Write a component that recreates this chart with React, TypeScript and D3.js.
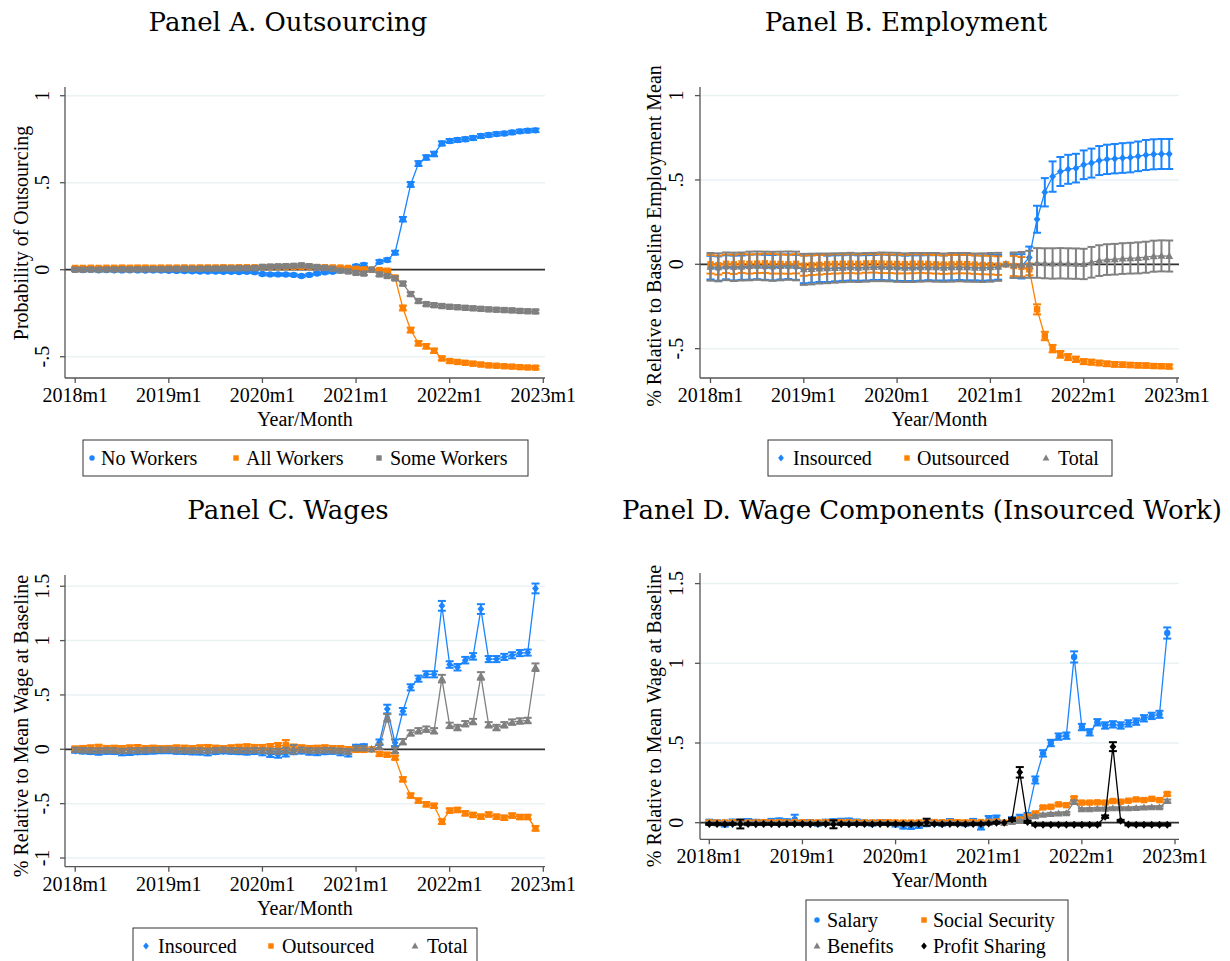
import React from "react";
import * as d3 from "d3";

// ---------------- categories / ticks ----------------
const monthIdx = d3.range(60); // 2018m1 .. 2022m12
const xTickMonths = [0, 12, 24, 36, 48, 60];
const xTickLabels = ["2018m1", "2019m1", "2020m1", "2021m1", "2022m1", "2023m1"];

// ---------------- Panel A: Outsourcing ----------------
const aNoWorkers = [
  0.000, -0.002, 0.000, -0.003, -0.002, -0.003, -0.004, -0.003, -0.004, -0.005, -0.004, -0.005,
  -0.006, -0.007, -0.008, -0.009, -0.010, -0.010, -0.011, -0.012, -0.012, -0.013, -0.012, -0.014,
  -0.025, -0.027, -0.027, -0.028, -0.030, -0.036, -0.030, -0.022, -0.015, -0.012, -0.005, 0.008,
  0.020, 0.028, 0.000, 0.046, 0.056, 0.098, 0.290, 0.490, 0.610, 0.645, 0.665, 0.726,
  0.740, 0.745, 0.750, 0.757, 0.768, 0.774, 0.780, 0.783, 0.789, 0.795, 0.799, 0.801,
];
const aNoWorkersCI = [
  0.007, 0.007, 0.007, 0.007, 0.007, 0.007, 0.007, 0.007, 0.007, 0.007, 0.007, 0.007,
  0.007, 0.007, 0.007, 0.007, 0.007, 0.007, 0.007, 0.007, 0.007, 0.007, 0.007, 0.007,
  0.007, 0.007, 0.007, 0.007, 0.007, 0.007, 0.007, 0.007, 0.007, 0.007, 0.007, 0.007,
  0.008, 0.008, 0.000, 0.009, 0.009, 0.011, 0.013, 0.014, 0.014, 0.013, 0.013, 0.012,
  0.011, 0.011, 0.011, 0.011, 0.011, 0.010, 0.010, 0.010, 0.010, 0.010, 0.010, 0.010,
];
const aAllWorkers = [
  0.010, 0.010, 0.011, 0.010, 0.011, 0.011, 0.012, 0.011, 0.012, 0.012, 0.011, 0.012,
  0.012, 0.012, 0.013, 0.012, 0.013, 0.013, 0.013, 0.014, 0.013, 0.014, 0.014, 0.014,
  0.015, 0.015, 0.016, 0.016, 0.016, 0.017, 0.016, 0.015, 0.014, 0.013, 0.012, 0.010,
  0.005, 0.002, 0.000, -0.002, -0.006, -0.045, -0.220, -0.347, -0.423, -0.440, -0.466, -0.510,
  -0.525, -0.530, -0.535, -0.540, -0.545, -0.550, -0.552, -0.555, -0.557, -0.560, -0.562, -0.563,
];
const aAllWorkersCI = [
  0.006, 0.006, 0.006, 0.006, 0.006, 0.006, 0.006, 0.006, 0.006, 0.006, 0.006, 0.006,
  0.006, 0.006, 0.006, 0.006, 0.006, 0.006, 0.006, 0.006, 0.006, 0.006, 0.006, 0.006,
  0.006, 0.006, 0.006, 0.006, 0.006, 0.006, 0.006, 0.006, 0.006, 0.006, 0.006, 0.006,
  0.006, 0.006, 0.000, 0.007, 0.007, 0.009, 0.014, 0.014, 0.013, 0.013, 0.012, 0.011,
  0.010, 0.010, 0.010, 0.010, 0.010, 0.010, 0.009, 0.009, 0.009, 0.009, 0.009, 0.009,
];
const aSomeWorkers = [
  0.000, 0.000, 0.001, 0.000, 0.001, 0.001, 0.002, 0.001, 0.002, 0.002, 0.003, 0.003,
  0.004, 0.004, 0.005, 0.005, 0.005, 0.006, 0.006, 0.007, 0.007, 0.008, 0.008, 0.009,
  0.016, 0.018, 0.019, 0.020, 0.022, 0.025, 0.020, 0.015, 0.010, 0.005, -0.005, -0.010,
  -0.018, -0.022, 0.000, -0.027, -0.036, -0.050, -0.080, -0.140, -0.180, -0.198, -0.204, -0.209,
  -0.213, -0.216, -0.219, -0.222, -0.225, -0.228, -0.230, -0.232, -0.234, -0.237, -0.239, -0.240,
];
const aSomeWorkersCI = [
  0.009, 0.009, 0.009, 0.009, 0.009, 0.009, 0.009, 0.009, 0.009, 0.009, 0.009, 0.009,
  0.009, 0.009, 0.009, 0.009, 0.009, 0.009, 0.009, 0.009, 0.009, 0.009, 0.009, 0.009,
  0.009, 0.009, 0.009, 0.009, 0.009, 0.009, 0.009, 0.009, 0.009, 0.009, 0.009, 0.009,
  0.009, 0.009, 0.000, 0.009, 0.009, 0.010, 0.011, 0.011, 0.011, 0.010, 0.010, 0.010,
  0.010, 0.010, 0.010, 0.010, 0.010, 0.010, 0.010, 0.010, 0.010, 0.010, 0.010, 0.010,
];

// ---------------- Panel B: Employment ----------------
const bInsourced = [
  -0.020, -0.025, -0.018, -0.022, -0.020, -0.017, -0.015, -0.018, -0.020, -0.016, -0.014, -0.018,
  -0.030, -0.028, -0.025, -0.027, -0.024, -0.022, -0.020, -0.022, -0.021, -0.019, -0.018, -0.020,
  -0.022, -0.024, -0.023, -0.022, -0.020, -0.021, -0.022, -0.020, -0.019, -0.020, -0.021, -0.022,
  -0.020, -0.018, 0.000, -0.010, -0.012, 0.040, 0.267, 0.427, 0.520, 0.550, 0.563, 0.570,
  0.590, 0.600, 0.615, 0.622, 0.626, 0.630, 0.633, 0.640, 0.648, 0.652, 0.654, 0.654,
];
const bInsourcedCI = [
  0.070, 0.072, 0.071, 0.073, 0.072, 0.074, 0.073, 0.074, 0.075, 0.074, 0.073, 0.074,
  0.082, 0.081, 0.080, 0.078, 0.077, 0.076, 0.076, 0.075, 0.075, 0.074, 0.075, 0.075,
  0.076, 0.075, 0.076, 0.075, 0.074, 0.075, 0.074, 0.075, 0.074, 0.075, 0.074, 0.075,
  0.075, 0.073, 0.000, 0.070, 0.072, 0.065, 0.080, 0.084, 0.090, 0.086, 0.086, 0.085,
  0.085, 0.086, 0.086, 0.087, 0.087, 0.088, 0.088, 0.088, 0.089, 0.089, 0.089, 0.089,
];
const bOutsourced = [
  0.000, -0.005, 0.003, 0.000, 0.005, 0.002, 0.004, 0.006, 0.003, 0.002, 0.000, 0.003,
  -0.008, -0.005, -0.003, 0.000, 0.002, 0.003, 0.004, 0.002, 0.005, 0.006, 0.004, 0.003,
  0.002, 0.001, 0.003, 0.004, 0.002, 0.000, -0.002, 0.000, 0.002, 0.001, -0.002, -0.004,
  -0.005, -0.008, 0.000, -0.010, -0.015, -0.030, -0.267, -0.425, -0.500, -0.534, -0.550, -0.563,
  -0.577, -0.580, -0.585, -0.590, -0.593, -0.595, -0.597, -0.599, -0.600, -0.603, -0.604, -0.606,
];
const bOutsourcedCI = [
  0.055, 0.056, 0.055, 0.057, 0.056, 0.057, 0.056, 0.057, 0.058, 0.057, 0.056, 0.057,
  0.060, 0.059, 0.058, 0.057, 0.057, 0.056, 0.056, 0.056, 0.055, 0.055, 0.056, 0.055,
  0.056, 0.055, 0.056, 0.055, 0.055, 0.055, 0.055, 0.055, 0.055, 0.055, 0.055, 0.055,
  0.055, 0.055, 0.000, 0.060, 0.058, 0.035, 0.030, 0.025, 0.022, 0.020, 0.018, 0.016,
  0.015, 0.015, 0.014, 0.014, 0.014, 0.013, 0.013, 0.013, 0.013, 0.012, 0.012, 0.012,
];
const bTotal = [
  -0.015, -0.018, -0.012, -0.015, -0.013, -0.010, -0.008, -0.010, -0.012, -0.010, -0.008, -0.010,
  -0.030, -0.028, -0.025, -0.024, -0.022, -0.020, -0.018, -0.020, -0.018, -0.016, -0.015, -0.016,
  -0.018, -0.020, -0.019, -0.018, -0.017, -0.018, -0.020, -0.018, -0.017, -0.018, -0.020, -0.020,
  -0.018, -0.015, 0.000, -0.005, -0.003, 0.000, 0.008, 0.006, 0.005, 0.006, 0.005, 0.004,
  0.002, 0.012, 0.022, 0.028, 0.030, 0.034, 0.036, 0.038, 0.042, 0.048, 0.050, 0.049,
];
const bTotalCI = [
  0.082, 0.083, 0.082, 0.084, 0.083, 0.085, 0.084, 0.085, 0.086, 0.085, 0.084, 0.085,
  0.092, 0.091, 0.089, 0.088, 0.087, 0.086, 0.086, 0.085, 0.085, 0.084, 0.085, 0.085,
  0.086, 0.085, 0.086, 0.085, 0.084, 0.085, 0.084, 0.085, 0.084, 0.085, 0.084, 0.085,
  0.085, 0.083, 0.000, 0.075, 0.076, 0.080, 0.088, 0.089, 0.090, 0.090, 0.090, 0.090,
  0.090, 0.091, 0.091, 0.091, 0.091, 0.091, 0.091, 0.092, 0.092, 0.092, 0.092, 0.092,
];

// ---------------- Panel C: Wages ----------------
const cInsourced = [
  -0.010, -0.015, -0.020, -0.025, -0.018, -0.020, -0.030, -0.028, -0.022, -0.020, -0.015, -0.012,
  -0.010, -0.018, -0.020, -0.022, -0.025, -0.030, -0.020, -0.015, -0.018, -0.020, -0.025, -0.020,
  -0.030, -0.045, -0.050, -0.040, -0.020, -0.015, -0.025, -0.030, -0.020, -0.018, -0.030, -0.040,
  0.020, 0.025, 0.000, 0.065, 0.370, 0.060, 0.350, 0.570, 0.650, 0.690, 0.690, 1.320,
  0.780, 0.755, 0.820, 0.855, 1.290, 0.830, 0.830, 0.850, 0.865, 0.885, 0.890, 1.480,
];
const cInsourcedCI = [
  0.022, 0.024, 0.023, 0.025, 0.024, 0.023, 0.025, 0.024, 0.023, 0.024, 0.025, 0.024,
  0.026, 0.024, 0.023, 0.025, 0.024, 0.026, 0.024, 0.023, 0.024, 0.025, 0.024, 0.023,
  0.025, 0.026, 0.027, 0.026, 0.025, 0.024, 0.025, 0.024, 0.025, 0.024, 0.025, 0.026,
  0.022, 0.022, 0.000, 0.025, 0.040, 0.030, 0.030, 0.028, 0.028, 0.028, 0.028, 0.045,
  0.030, 0.030, 0.030, 0.030, 0.045, 0.028, 0.028, 0.028, 0.028, 0.028, 0.028, 0.045,
];
const cOutsourced = [
  0.005, 0.010, 0.015, 0.020, 0.010, 0.012, 0.008, 0.015, 0.018, 0.010, 0.012, 0.008,
  0.010, 0.015, 0.012, 0.010, 0.015, 0.018, 0.012, 0.010, 0.015, 0.020, 0.025, 0.020,
  0.018, 0.025, 0.030, 0.040, 0.020, 0.015, 0.010, 0.012, 0.015, 0.010, 0.008, 0.000,
  -0.005, -0.005, 0.000, -0.043, -0.050, -0.077, -0.276, -0.426, -0.472, -0.506, -0.520, -0.666,
  -0.564, -0.558, -0.589, -0.604, -0.620, -0.600, -0.620, -0.630, -0.610, -0.623, -0.623, -0.727,
];
const cOutsourcedCI = [
  0.020, 0.021, 0.020, 0.022, 0.021, 0.020, 0.021, 0.020, 0.021, 0.020, 0.021, 0.020,
  0.021, 0.020, 0.021, 0.020, 0.021, 0.022, 0.021, 0.020, 0.021, 0.022, 0.021, 0.020,
  0.022, 0.024, 0.028, 0.045, 0.024, 0.022, 0.021, 0.020, 0.021, 0.020, 0.021, 0.020,
  0.018, 0.018, 0.000, 0.018, 0.018, 0.018, 0.020, 0.020, 0.020, 0.020, 0.020, 0.022,
  0.020, 0.020, 0.020, 0.020, 0.020, 0.020, 0.020, 0.020, 0.020, 0.020, 0.020, 0.022,
];
const cTotal = [
  -0.005, -0.008, -0.010, -0.012, -0.008, -0.010, -0.015, -0.012, -0.010, -0.008, -0.006, -0.005,
  -0.004, -0.008, -0.010, -0.012, -0.010, -0.015, -0.008, -0.005, -0.008, -0.010, -0.012, -0.008,
  -0.012, -0.015, -0.018, -0.010, 0.000, -0.005, -0.010, -0.012, -0.008, -0.010, -0.015, -0.020,
  0.010, 0.010, 0.000, 0.025, 0.290, -0.010, 0.070, 0.150, 0.170, 0.185, 0.170, 0.650,
  0.220, 0.200, 0.235, 0.255, 0.675, 0.225, 0.200, 0.225, 0.250, 0.260, 0.265, 0.755,
];
const cTotalCI = [
  0.020, 0.021, 0.020, 0.021, 0.020, 0.021, 0.020, 0.021, 0.020, 0.021, 0.020, 0.021,
  0.020, 0.021, 0.020, 0.021, 0.020, 0.021, 0.020, 0.021, 0.020, 0.021, 0.020, 0.021,
  0.021, 0.022, 0.023, 0.025, 0.040, 0.022, 0.021, 0.020, 0.021, 0.020, 0.021, 0.022,
  0.020, 0.020, 0.000, 0.022, 0.035, 0.025, 0.025, 0.025, 0.025, 0.025, 0.025, 0.035,
  0.025, 0.025, 0.025, 0.025, 0.035, 0.025, 0.025, 0.025, 0.025, 0.025, 0.025, 0.035,
];

// ---------------- Panel D: Wage components ----------------
const dSalary = [
  0.005, 0.000, -0.010, 0.005, 0.002, 0.008, 0.004, 0.000, 0.010, 0.012, 0.008, 0.020,
  0.000, 0.002, -0.005, 0.004, 0.008, 0.010, 0.012, 0.005, 0.000, -0.004, 0.002, 0.000,
  -0.010, -0.022, -0.025, -0.018, -0.008, 0.000, -0.005, 0.008, 0.000, -0.005, 0.010, -0.025,
  0.027, 0.030, 0.000, 0.020, 0.035, 0.045, 0.268, 0.435, 0.500, 0.540, 0.546, 1.040,
  0.600, 0.567, 0.630, 0.610, 0.617, 0.610, 0.623, 0.634, 0.655, 0.670, 0.680, 1.190,
];
const dSalaryCI = [
  0.014, 0.015, 0.014, 0.015, 0.014, 0.015, 0.014, 0.015, 0.014, 0.015, 0.014, 0.030,
  0.014, 0.015, 0.014, 0.015, 0.014, 0.015, 0.014, 0.015, 0.014, 0.015, 0.014, 0.015,
  0.014, 0.015, 0.014, 0.015, 0.014, 0.015, 0.014, 0.015, 0.014, 0.015, 0.014, 0.018,
  0.015, 0.015, 0.000, 0.015, 0.015, 0.016, 0.022, 0.020, 0.020, 0.020, 0.020, 0.035,
  0.020, 0.020, 0.020, 0.020, 0.020, 0.020, 0.020, 0.020, 0.020, 0.020, 0.022, 0.035,
];
const dSocialSecurity = [
  0.002, 0.001, 0.002, 0.003, 0.002, 0.001, 0.002, 0.003, 0.002, 0.003, 0.002, 0.004,
  0.003, 0.002, 0.002, 0.003, 0.003, 0.004, 0.004, 0.003, 0.002, 0.002, 0.003, 0.003,
  0.002, 0.001, 0.001, 0.002, 0.003, 0.004, 0.003, 0.004, 0.003, 0.002, 0.003, 0.004,
  0.005, 0.008, 0.000, 0.012, 0.020, 0.038, 0.058, 0.096, 0.100, 0.115, 0.110, 0.153,
  0.126, 0.126, 0.128, 0.126, 0.136, 0.132, 0.138, 0.146, 0.142, 0.150, 0.142, 0.180,
];
const dSocialSecurityCI = [
  0.007, 0.007, 0.007, 0.007, 0.007, 0.007, 0.007, 0.007, 0.007, 0.007, 0.007, 0.007,
  0.007, 0.007, 0.007, 0.007, 0.007, 0.007, 0.007, 0.007, 0.007, 0.007, 0.007, 0.007,
  0.007, 0.007, 0.007, 0.007, 0.007, 0.007, 0.007, 0.007, 0.007, 0.007, 0.007, 0.007,
  0.007, 0.007, 0.000, 0.007, 0.007, 0.008, 0.008, 0.008, 0.008, 0.008, 0.008, 0.010,
  0.008, 0.008, 0.008, 0.008, 0.008, 0.008, 0.008, 0.008, 0.008, 0.008, 0.008, 0.010,
];
const dBenefits = [
  -0.002, -0.003, -0.002, -0.001, -0.002, -0.003, -0.002, -0.001, -0.002, -0.002, -0.001, -0.002,
  -0.003, -0.002, -0.002, -0.001, -0.002, -0.002, -0.001, -0.002, -0.003, -0.003, -0.002, -0.002,
  -0.004, -0.005, -0.005, -0.004, -0.003, -0.002, -0.003, -0.002, -0.003, -0.004, -0.003, -0.003,
  0.002, 0.004, 0.000, 0.005, 0.012, 0.025, 0.040, 0.050, 0.055, 0.058, 0.060, 0.130,
  0.084, 0.085, 0.087, 0.088, 0.090, 0.090, 0.090, 0.092, 0.095, 0.097, 0.097, 0.136,
];
const dBenefitsCI = [
  0.006, 0.006, 0.006, 0.006, 0.006, 0.006, 0.006, 0.006, 0.006, 0.006, 0.006, 0.006,
  0.006, 0.006, 0.006, 0.006, 0.006, 0.006, 0.006, 0.006, 0.006, 0.006, 0.006, 0.006,
  0.006, 0.006, 0.006, 0.006, 0.006, 0.006, 0.006, 0.006, 0.006, 0.006, 0.006, 0.006,
  0.006, 0.006, 0.000, 0.006, 0.006, 0.007, 0.007, 0.007, 0.007, 0.007, 0.007, 0.009,
  0.007, 0.007, 0.007, 0.007, 0.007, 0.007, 0.007, 0.007, 0.007, 0.007, 0.007, 0.009,
];
const dProfitSharing = [
  -0.008, -0.008, -0.009, -0.008, -0.008, -0.008, -0.009, -0.008, -0.008, -0.009, -0.008, -0.008,
  -0.008, -0.009, -0.008, -0.008, -0.010, -0.008, -0.009, -0.008, -0.008, -0.009, -0.008, -0.008,
  -0.008, -0.008, -0.009, -0.008, 0.003, -0.008, -0.009, -0.008, -0.008, -0.009, -0.008, -0.008,
  -0.005, 0.000, 0.000, 0.020, 0.316, 0.005, -0.013, -0.013, -0.013, -0.013, -0.013, -0.013,
  -0.013, -0.013, -0.013, 0.038, 0.477, 0.012, -0.012, -0.013, -0.013, -0.013, -0.013, -0.013,
];
const dProfitSharingCI = [
  0.005, 0.005, 0.005, 0.005, 0.028, 0.005, 0.005, 0.005, 0.005, 0.005, 0.005, 0.005,
  0.005, 0.005, 0.005, 0.005, 0.025, 0.005, 0.005, 0.005, 0.005, 0.005, 0.005, 0.005,
  0.005, 0.005, 0.005, 0.005, 0.022, 0.005, 0.005, 0.005, 0.005, 0.005, 0.005, 0.005,
  0.005, 0.005, 0.000, 0.008, 0.033, 0.006, 0.005, 0.005, 0.005, 0.005, 0.005, 0.005,
  0.005, 0.005, 0.005, 0.008, 0.028, 0.006, 0.005, 0.005, 0.005, 0.005, 0.005, 0.005,
];

// ---------------- styling ----------------
const BLUE = "#1a85ff";
const ORANGE = "#ff8000";
const GRAY = "#808080";
const BLACK = "#000000";
const FONT = "'Liberation Serif', 'Times New Roman', serif";
const TITLE_FONT = "'DejaVu Serif', serif";

type MarkerType = "circle" | "square" | "triangle" | "diamond";
interface Series {
  name: string;
  color: string;
  marker: MarkerType;
  values: number[];
  ci: number[];
}
interface LegendItem { name: string; color: string; marker: MarkerType; mx: number; tx: number; ty: number; }
interface PanelCfg {
  title: string;
  titleX: number;
  titleY: number;
  yTitle: string;
  yTitleX: number;
  yTitleY: number;
  left: number;
  right: number;
  top: number;
  bottom: number;
  x0: number;
  x60: number;
  yZero: number;
  yOne: number;
  yTicks: number[];
  yTickLabels: string[];
  yTickLabelX: number;
  series: Series[];
  legendBox: [number, number, number, number];
  legend: LegendItem[];
}

function Marker({ type, x, y, color, s = 1 }: { type: MarkerType; x: number; y: number; color: string; s?: number }) {
  if (type === "circle") return <circle cx={x} cy={y} r={3.2 * s} fill={color} />;
  if (type === "square") {
    const h = 3.2 * s;
    return <rect x={x - h} y={y - h} width={2 * h} height={2 * h} fill={color} />;
  }
  if (type === "triangle") {
    const h = 4 * s;
    return <path d={`M${x},${y - h}L${x + h},${y + h * 0.75}L${x - h},${y + h * 0.75}Z`} fill={color} />;
  }
  const h = 4 * s;
  return <path d={`M${x},${y - h}L${x + h * 0.85},${y}L${x},${y + h}L${x - h * 0.85},${y}Z`} fill={color} />;
}

function Panel({ cfg }: { cfg: PanelCfg }) {
  const x = d3.scaleLinear().domain([0, 60]).range([cfg.x0, cfg.x60]);
  const y = d3.scaleLinear().domain([0, 1]).range([cfg.yZero, cfg.yOne]);
  const line = d3
    .line<number>()
    .x((_, i) => x(monthIdx[i]))
    .y((d) => y(d));
  const cap = 4;
  return (
    <g>
      <text x={cfg.titleX} y={cfg.titleY} textAnchor="middle" fontFamily={TITLE_FONT} fontSize={26} fill="#000">
        {cfg.title}
      </text>
      {cfg.yTicks.map((t) => (
        <line key={"g" + t} x1={cfg.left} x2={cfg.right} y1={y(t)} y2={y(t)} stroke="#eaf2f3" strokeWidth={1.5} />
      ))}
      <line x1={cfg.left} x2={cfg.right} y1={y(0)} y2={y(0)} stroke="#333" strokeWidth={1.8} />
      <line x1={cfg.left} x2={cfg.left} y1={cfg.top} y2={cfg.bottom} stroke="#555" strokeWidth={1.3} />
      <line x1={cfg.left} x2={cfg.right} y1={cfg.bottom} y2={cfg.bottom} stroke="#555" strokeWidth={1.3} />
      {cfg.yTicks.map((t, i) => (
        <g key={"yt" + t}>
          <line x1={cfg.left - 5} x2={cfg.left} y1={y(t)} y2={y(t)} stroke="#555" strokeWidth={1.3} />
          <text
            transform={`translate(${cfg.yTickLabelX},${y(t)}) rotate(-90)`}
            textAnchor="middle"
            fontFamily={FONT}
            fontSize={20}
            fill="#000"
          >
            {cfg.yTickLabels[i]}
          </text>
        </g>
      ))}
      {xTickMonths.map((m, i) => (
        <g key={"xt" + m}>
          <line x1={x(m)} x2={x(m)} y1={cfg.bottom} y2={cfg.bottom + 5} stroke="#555" strokeWidth={1.3} />
          <text x={x(m)} y={cfg.bottom + 24} textAnchor="middle" fontFamily={FONT} fontSize={20} fill="#000">
            {xTickLabels[i]}
          </text>
        </g>
      ))}
      <text
        x={(cfg.left + cfg.right) / 2}
        y={cfg.bottom + 48}
        textAnchor="middle"
        fontFamily={FONT}
        fontSize={20}
        fill="#000"
      >
        Year/Month
      </text>
      <text
        transform={`translate(${cfg.yTitleX},${cfg.yTitleY}) rotate(-90)`}
        textAnchor="middle"
        fontFamily={FONT}
        fontSize={20}
        fill="#000"
      >
        {cfg.yTitle}
      </text>
      {cfg.series.map((s) => (
        <g key={s.name}>
          {s.values.map((v, i) =>
            s.ci[i] > 0 ? (
              <g key={i} stroke={s.color} strokeWidth={2}>
                <line x1={x(i)} x2={x(i)} y1={y(v - s.ci[i])} y2={y(v + s.ci[i])} />
                <line x1={x(i) - cap} x2={x(i) + cap} y1={y(v - s.ci[i])} y2={y(v - s.ci[i])} />
                <line x1={x(i) - cap} x2={x(i) + cap} y1={y(v + s.ci[i])} y2={y(v + s.ci[i])} />
              </g>
            ) : null
          )}
          <path d={line(s.values) || ""} fill="none" stroke={s.color} strokeWidth={1.3} />
          {s.values.map((v, i) => (
            <Marker key={"m" + i} type={s.marker} x={x(i)} y={y(v)} color={s.color} />
          ))}
        </g>
      ))}
      <rect
        x={cfg.legendBox[0]}
        y={cfg.legendBox[1]}
        width={cfg.legendBox[2] - cfg.legendBox[0]}
        height={cfg.legendBox[3] - cfg.legendBox[1]}
        fill="#fff"
        stroke="#333"
        strokeWidth={1}
      />
      {cfg.legend.map((l) => (
        <g key={l.name}>
          <Marker type={l.marker} x={l.mx} y={l.ty - 7} color={l.color} s={0.85} />
          <text x={l.tx} y={l.ty} fontFamily={FONT} fontSize={20} fill="#000">
            {l.name}
          </text>
        </g>
      ))}
    </g>
  );
}

const panels: PanelCfg[] = [
  {
    title: "Panel A. Outsourcing",
    titleX: 288,
    titleY: 31,
    yTitle: "Probability of Outsourcing",
    yTitleX: 28,
    yTitleY: 233,
    left: 65,
    right: 545,
    top: 87,
    bottom: 378,
    x0: 75.2,
    x60: 543.3,
    yZero: 269.7,
    yOne: 95.7,
    yTicks: [-0.5, 0, 0.5, 1],
    yTickLabels: ["-.5", "0", ".5", "1"],
    yTickLabelX: 49,
    series: [
      { name: "No Workers", color: BLUE, marker: "circle", values: aNoWorkers, ci: aNoWorkersCI },
      { name: "All Workers", color: ORANGE, marker: "square", values: aAllWorkers, ci: aAllWorkersCI },
      { name: "Some Workers", color: GRAY, marker: "square", values: aSomeWorkers, ci: aSomeWorkersCI },
    ],
    legendBox: [83, 440, 528, 476],
    legend: [
      { name: "No Workers", color: BLUE, marker: "circle", mx: 92, tx: 101, ty: 465 },
      { name: "All Workers", color: ORANGE, marker: "square", mx: 236, tx: 246, ty: 465 },
      { name: "Some Workers", color: GRAY, marker: "square", mx: 379, tx: 390, ty: 465 },
    ],
  },
  {
    title: "Panel B. Employment",
    titleX: 906,
    titleY: 31,
    yTitle: "% Relative to Baseline Employment Mean",
    yTitleX: 661,
    yTitleY: 236,
    left: 700,
    right: 1179,
    top: 87,
    bottom: 378,
    x0: 710.5,
    x60: 1177,
    yZero: 264.3,
    yOne: 95.6,
    yTicks: [-0.5, 0, 0.5, 1],
    yTickLabels: ["-.5", "0", ".5", "1"],
    yTickLabelX: 683,
    series: [
      { name: "Insourced", color: BLUE, marker: "diamond", values: bInsourced, ci: bInsourcedCI },
      { name: "Outsourced", color: ORANGE, marker: "square", values: bOutsourced, ci: bOutsourcedCI },
      { name: "Total", color: GRAY, marker: "triangle", values: bTotal, ci: bTotalCI },
    ],
    legendBox: [768, 440, 1112, 476],
    legend: [
      { name: "Insourced", color: BLUE, marker: "diamond", mx: 781, tx: 793, ty: 465 },
      { name: "Outsourced", color: ORANGE, marker: "square", mx: 907, tx: 917, ty: 465 },
      { name: "Total", color: GRAY, marker: "triangle", mx: 1046, tx: 1058, ty: 465 },
    ],
  },
  {
    title: "Panel C. Wages",
    titleX: 288,
    titleY: 519,
    yTitle: "% Relative to Mean Wage at Baseline",
    yTitleX: 28,
    yTitleY: 726,
    left: 65,
    right: 545,
    top: 575,
    bottom: 866.7,
    x0: 75.2,
    x60: 543.3,
    yZero: 749.3,
    yOne: 640.6,
    yTicks: [-1, -0.5, 0, 0.5, 1, 1.5],
    yTickLabels: ["-1", "-.5", "0", ".5", "1", "1.5"],
    yTickLabelX: 49,
    series: [
      { name: "Insourced", color: BLUE, marker: "diamond", values: cInsourced, ci: cInsourcedCI },
      { name: "Outsourced", color: ORANGE, marker: "square", values: cOutsourced, ci: cOutsourcedCI },
      { name: "Total", color: GRAY, marker: "triangle", values: cTotal, ci: cTotalCI },
    ],
    legendBox: [133, 928, 477, 975],
    legend: [
      { name: "Insourced", color: BLUE, marker: "diamond", mx: 146, tx: 158, ty: 953 },
      { name: "Outsourced", color: ORANGE, marker: "square", mx: 271, tx: 282, ty: 953 },
      { name: "Total", color: GRAY, marker: "triangle", mx: 415, tx: 427, ty: 953 },
    ],
  },
  {
    title: "Panel D. Wage Components (Insourced Work)",
    titleX: 922,
    titleY: 519,
    yTitle: "% Relative to Mean Wage at Baseline",
    yTitleX: 661,
    yTitleY: 716,
    left: 700,
    right: 1179,
    top: 573,
    bottom: 839.3,
    x0: 709.3,
    x60: 1175,
    yZero: 822.7,
    yOne: 663.3,
    yTicks: [0, 0.5, 1, 1.5],
    yTickLabels: ["0", ".5", "1", "1.5"],
    yTickLabelX: 683,
    series: [
      { name: "Salary", color: BLUE, marker: "circle", values: dSalary, ci: dSalaryCI },
      { name: "Social Security", color: ORANGE, marker: "square", values: dSocialSecurity, ci: dSocialSecurityCI },
      { name: "Benefits", color: GRAY, marker: "triangle", values: dBenefits, ci: dBenefitsCI },
      { name: "Profit Sharing", color: BLACK, marker: "diamond", values: dProfitSharing, ci: dProfitSharingCI },
    ],
    legendBox: [806, 900, 1068, 975],
    legend: [
      { name: "Salary", color: BLUE, marker: "circle", mx: 817, tx: 827, ty: 927 },
      { name: "Social Security", color: ORANGE, marker: "square", mx: 924, tx: 933, ty: 927 },
      { name: "Benefits", color: GRAY, marker: "triangle", mx: 817, tx: 827, ty: 953 },
      { name: "Profit Sharing", color: BLACK, marker: "diamond", mx: 924, tx: 933, ty: 953 },
    ],
  },
];

export default function App() {
  return (
    <svg
      width={1230}
      height={961}
      viewBox="0 0 1230 961"
      style={{ position: "absolute", left: 0, top: 0, background: "#fff" }}
    >
      <rect x={0} y={0} width={1230} height={961} fill="#fff" />
      {panels.map((p) => (
        <Panel key={p.title} cfg={p} />
      ))}
    </svg>
  );
}
